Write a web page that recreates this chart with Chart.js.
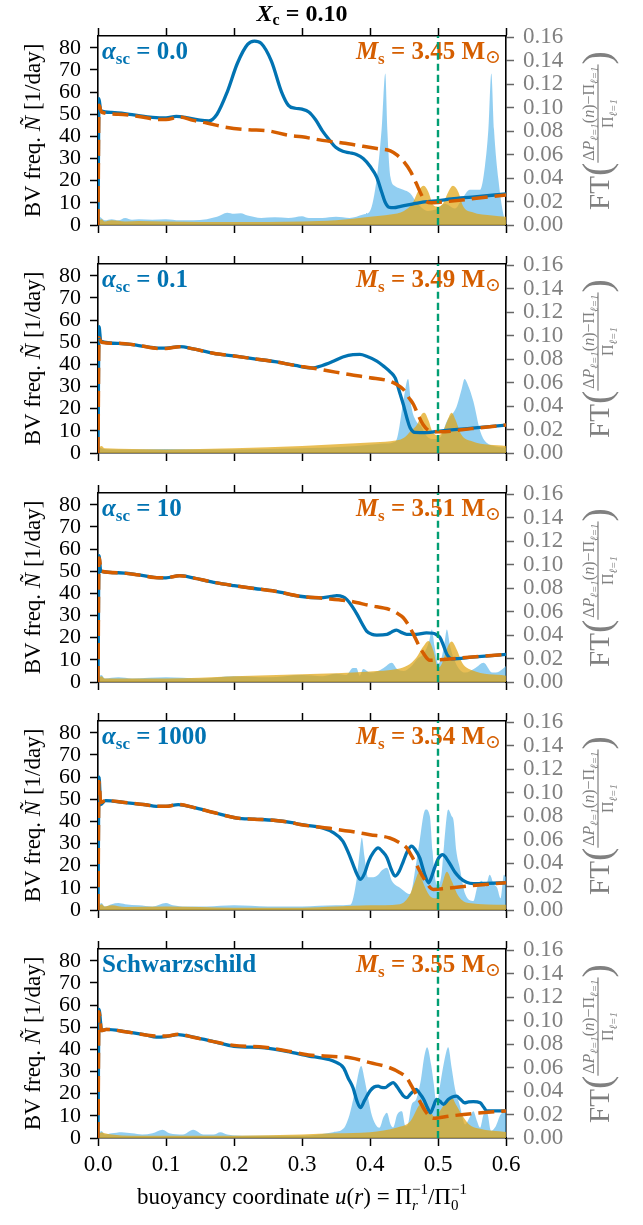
<!DOCTYPE html>
<html>
<head>
<meta charset="utf-8">
<script src="https://cdn.jsdelivr.net/npm/chart.js@4/dist/chart.umd.min.js"></script>
<style>
  body { margin: 0; background: #fff; width: 643px; height: 1225px; position: relative; overflow: hidden; }
  canvas { position: absolute; left: 0; }
</style>
</head>
<body>
<script>
// ---- axis ticks and ranges ----
const uTicks = [0, 0.1, 0.2, 0.3, 0.4, 0.5, 0.6];
const nTicks = [0, 10, 20, 30, 40, 50, 60, 70, 80];
const ftTicks = [0, 0.02, 0.04, 0.06, 0.08, 0.10, 0.12, 0.14, 0.16];
const N_MAX = 85.3;
const FT_MAX = 0.161;
const uMark = 0.5;

// ---- panel tags ----
const alphaSc = ['0.0', '0.1', '10', '1000', null];
const starMass = ['3.45', '3.49', '3.51', '3.54', '3.55'];

// ---- BV frequency profiles [u, N] : model (solid) and reference (dashed) ----
const nModel1 = [[0,0],[0.0015,57],[0.004,51.5],[0.02,50.8],[0.05,49.8],[0.08,48.6],[0.1,48.3],[0.115,49],[0.13,48.5],[0.15,47.3],[0.163,47],[0.175,50],[0.19,60],[0.205,73],[0.22,81.5],[0.23,83],[0.24,82],[0.255,74],[0.27,60],[0.28,54],[0.29,52.7],[0.3,52.3],[0.31,51],[0.32,47.5],[0.33,42.5],[0.34,38.5],[0.35,35],[0.36,33.3],[0.37,32.6],[0.38,31.8],[0.39,30],[0.4,26.5],[0.41,21.5],[0.417,15],[0.422,10.5],[0.428,8],[0.435,7.8],[0.445,8.4],[0.46,9.3],[0.48,10.4],[0.5,11],[0.52,11.8],[0.55,12.6],[0.6,14]];
const nRef1 = [[0,0],[0.0015,54],[0.005,51],[0.03,50],[0.06,49],[0.09,47.6],[0.1,47.6],[0.12,48.8],[0.14,47.2],[0.16,46],[0.19,44],[0.22,43],[0.25,42.5],[0.28,40.5],[0.3,39.8],[0.33,38.2],[0.36,37],[0.39,35.5],[0.41,34.5],[0.43,33.5],[0.44,31.5],[0.45,28.5],[0.46,24],[0.468,18.8],[0.475,14],[0.48,11.3],[0.49,10],[0.5,10.2],[0.55,11.8],[0.6,13.6]];

const nModel2 = [[0,0],[0.0015,57],[0.004,50.5],[0.03,49.5],[0.06,48.5],[0.09,47.3],[0.1,47.3],[0.12,48],[0.14,47],[0.17,45],[0.2,43.8],[0.23,42.5],[0.26,41.2],[0.29,39.5],[0.314,38.4],[0.33,39.5],[0.346,41.4],[0.36,43.3],[0.375,44.4],[0.385,44.5],[0.395,43.7],[0.41,41.5],[0.42,39.2],[0.43,36.5],[0.437,33.9],[0.443,28],[0.449,21.9],[0.455,15],[0.459,11.4],[0.466,9.3],[0.483,9.2],[0.503,9.9],[0.55,11.2],[0.6,12.6]];
const nRef2 = [[0,0],[0.0015,52],[0.005,50],[0.03,49.5],[0.06,48.5],[0.09,47.2],[0.1,47.2],[0.12,48],[0.14,47],[0.17,45],[0.2,43.8],[0.23,42.5],[0.26,41.2],[0.29,39.5],[0.314,38.4],[0.34,37],[0.37,35.4],[0.4,34],[0.429,32.4],[0.44,30.8],[0.449,28.7],[0.457,25],[0.464,21.9],[0.471,17],[0.478,12.9],[0.488,9.9],[0.503,9.6],[0.55,11],[0.6,12.6]];

const nModel3 = [[0,0],[0.0015,57],[0.004,50],[0.03,49.3],[0.06,48.3],[0.09,47],[0.1,47],[0.12,48],[0.14,47],[0.17,45],[0.2,43.5],[0.23,42.2],[0.26,41],[0.297,38.7],[0.326,38],[0.343,38.6],[0.351,39],[0.36,38.5],[0.366,37.2],[0.374,34],[0.381,30.5],[0.388,26.5],[0.395,23],[0.403,21.5],[0.41,21.2],[0.425,21.5],[0.432,22.6],[0.439,23.4],[0.446,22.4],[0.454,21.5],[0.468,21.5],[0.483,22.2],[0.493,22],[0.498,21.3],[0.503,20],[0.508,16.5],[0.513,12.5],[0.52,10.5],[0.55,11.2],[0.6,12.5]];
const nRef3 = [[0,0],[0.0015,56],[0.005,50],[0.03,49.3],[0.06,48.3],[0.09,47],[0.1,47],[0.12,48],[0.14,47],[0.17,45],[0.2,43.5],[0.23,42.2],[0.26,41],[0.297,38.7],[0.33,37.8],[0.37,36.5],[0.4,34.5],[0.429,32.7],[0.44,31],[0.449,29],[0.457,25.5],[0.464,21.5],[0.471,17],[0.478,13.2],[0.488,9.8],[0.508,10.2],[0.55,11.3],[0.6,12.5]];

const nModel4 = [[0,0],[0.0015,60],[0.0039,47.6],[0.011,49.4],[0.04,48.5],[0.07,47.5],[0.086,46.8],[0.1,46.8],[0.118,47.6],[0.14,46.3],[0.17,44],[0.204,41.5],[0.23,41],[0.258,40.5],[0.285,39.4],[0.297,38.6],[0.33,37],[0.346,34.9],[0.36,31.1],[0.368,26],[0.375,20.6],[0.381,16],[0.386,13.8],[0.392,16.5],[0.398,22],[0.405,26],[0.412,28],[0.418,26.5],[0.425,23.6],[0.431,18.5],[0.437,15.3],[0.443,17.5],[0.449,22],[0.455,26.5],[0.461,28.8],[0.467,27],[0.473,23.6],[0.48,16.5],[0.486,12.3],[0.49,14.5],[0.495,19],[0.501,23.5],[0.507,25],[0.512,23.5],[0.518,20.6],[0.525,17],[0.532,14.6],[0.542,12.5],[0.552,11.9],[0.57,12],[0.6,12.3]];
const nRef4 = [[0,0],[0.0015,58],[0.004,48.5],[0.011,49.4],[0.04,48.5],[0.07,47.5],[0.086,46.8],[0.1,46.8],[0.118,47.6],[0.14,46.3],[0.17,44],[0.204,41.5],[0.23,41],[0.258,40.5],[0.285,39.4],[0.297,38.6],[0.346,36.6],[0.371,35.5],[0.4,34],[0.429,32.5],[0.443,30.5],[0.454,28],[0.461,24.5],[0.468,20.6],[0.476,16],[0.483,12.3],[0.493,9.3],[0.512,9.8],[0.55,11],[0.6,12.3]];

const nModel5 = [[0,0],[0.0015,58],[0.0054,48.5],[0.012,49],[0.04,48],[0.07,46.5],[0.086,45.5],[0.1,45.8],[0.118,46.7],[0.14,45.5],[0.17,43.5],[0.2,41.4],[0.245,40.7],[0.28,39],[0.31,37],[0.33,36],[0.346,34.7],[0.361,31.7],[0.368,27],[0.375,22.7],[0.381,16.5],[0.386,13.7],[0.392,17],[0.4,21.2],[0.406,23],[0.412,23.4],[0.417,22.8],[0.422,22.7],[0.428,24],[0.434,25],[0.44,23],[0.444,21.2],[0.449,19],[0.454,18.2],[0.46,20],[0.468,21.9],[0.472,20.5],[0.479,17.4],[0.484,14],[0.489,11.4],[0.493,14],[0.498,17.4],[0.503,16.5],[0.508,15.2],[0.515,17.4],[0.521,18.5],[0.527,18.9],[0.533,17.5],[0.539,15.9],[0.545,16.3],[0.552,16.4],[0.562,15.9],[0.567,14],[0.572,12.2],[0.6,12.2]];
const nRef5 = [[0,0],[0.0015,57],[0.005,48.5],[0.012,49],[0.04,48],[0.07,46.5],[0.086,46],[0.1,46],[0.118,46.8],[0.14,45.5],[0.17,43.5],[0.2,41.8],[0.245,41],[0.28,39.2],[0.31,37.5],[0.346,36.8],[0.371,36.2],[0.4,34],[0.429,31.7],[0.444,29.5],[0.454,27.2],[0.461,23.5],[0.468,19.7],[0.476,15],[0.483,11.4],[0.493,8.9],[0.517,9.9],[0.55,11],[0.6,12.2]];

// ---- period-spacing spectra [u, FT] : model (light blue) and reference (gold) ----
const ftModel1 = [[0,0.008],[0.005,0.006],[0.01,0.004],[0.02,0.005],[0.03,0.004],[0.04,0.006],[0.05,0.0045],[0.06,0.005],[0.08,0.0045],[0.1,0.005],[0.12,0.004],[0.14,0.004],[0.16,0.005],[0.175,0.007],[0.19,0.0105],[0.2,0.0095],[0.21,0.01],[0.22,0.008],[0.24,0.006],[0.26,0.0065],[0.28,0.006],[0.3,0.0075],[0.31,0.006],[0.33,0.006],[0.35,0.007],[0.37,0.006],[0.39,0.009],[0.4,0.012],[0.41,0.04],[0.417,0.081],[0.4225,0.129],[0.4255,0.081],[0.43,0.041],[0.437,0.033],[0.449,0.03],[0.459,0.027],[0.47,0.018],[0.485,0.012],[0.5,0.014],[0.51,0.018],[0.525,0.014],[0.535,0.022],[0.547,0.03],[0.562,0.03],[0.569,0.05],[0.574,0.081],[0.5784,0.129],[0.5824,0.081],[0.589,0.038],[0.597,0.007],[0.6,0.004]];
const ftRef1 = [[0,0.003],[0.005,0.005],[0.01,0.003],[0.02,0.004],[0.04,0.003],[0.06,0.0035],[0.1,0.003],[0.2,0.0025],[0.3,0.003],[0.35,0.004],[0.4,0.007],[0.43,0.009],[0.45,0.012],[0.462,0.018],[0.472,0.03],[0.479,0.0334],[0.486,0.028],[0.493,0.017],[0.5,0.0156],[0.507,0.018],[0.515,0.028],[0.522,0.0334],[0.53,0.028],[0.537,0.016],[0.55,0.011],[0.58,0.008],[0.6,0.007]];

const ftModel2 = [[0,0.006],[0.005,0.004],[0.02,0.003],[0.05,0.003],[0.1,0.0035],[0.15,0.003],[0.2,0.003],[0.3,0.004],[0.38,0.006],[0.42,0.008],[0.434,0.009],[0.44,0.013],[0.449,0.044],[0.456,0.063],[0.461,0.039],[0.468,0.027],[0.475,0.023],[0.483,0.0146],[0.49,0.012],[0.5,0.012],[0.505,0.015],[0.513,0.027],[0.527,0.039],[0.535,0.055],[0.539,0.063],[0.544,0.058],[0.552,0.044],[0.562,0.0187],[0.571,0.009],[0.6,0.0045]];
const ftRef2 = [[0,0.004],[0.005,0.006],[0.01,0.004],[0.05,0.0035],[0.1,0.003],[0.2,0.004],[0.3,0.006],[0.4,0.009],[0.43,0.01],[0.45,0.013],[0.46,0.0187],[0.47,0.025],[0.476,0.033],[0.48,0.0343],[0.486,0.028],[0.492,0.018],[0.5,0.015],[0.507,0.018],[0.514,0.028],[0.52,0.0343],[0.526,0.028],[0.534,0.016],[0.55,0.01],[0.6,0.006]];

const ftModel3 = [[0,0.004],[0.005,0.006],[0.01,0.003],[0.03,0.004],[0.05,0.003],[0.1,0.004],[0.15,0.003],[0.2,0.005],[0.25,0.004],[0.3,0.006],[0.33,0.005],[0.35,0.007],[0.365,0.006],[0.375,0.012],[0.38,0.012],[0.385,0.0054],[0.39,0.011],[0.4,0.008],[0.41,0.009],[0.42,0.012],[0.432,0.0165],[0.44,0.011],[0.449,0.0094],[0.46,0.013],[0.47,0.02],[0.48,0.025],[0.487,0.035],[0.491,0.0448],[0.495,0.03],[0.5,0.016],[0.505,0.02],[0.51,0.035],[0.513,0.0448],[0.518,0.03],[0.527,0.015],[0.54,0.008],[0.555,0.012],[0.567,0.0165],[0.58,0.008],[0.59,0.009],[0.6,0.0136]];
const ftRef3 = [[0,0.003],[0.005,0.005],[0.01,0.003],[0.05,0.003],[0.1,0.003],[0.2,0.005],[0.3,0.0065],[0.4,0.009],[0.44,0.011],[0.455,0.014],[0.468,0.0207],[0.478,0.03],[0.486,0.035],[0.493,0.027],[0.5,0.012],[0.506,0.016],[0.513,0.028],[0.52,0.0344],[0.528,0.027],[0.536,0.016],[0.55,0.01],[0.6,0.0054]];

const ftModel4 = [[0,0.003],[0.005,0.006],[0.01,0.003],[0.02,0.005],[0.03,0.006],[0.04,0.005],[0.06,0.004],[0.08,0.003],[0.1,0.006],[0.11,0.004],[0.13,0.003],[0.16,0.003],[0.2,0.004],[0.25,0.003],[0.3,0.003],[0.35,0.004],[0.371,0.0045],[0.38,0.025],[0.385,0.05],[0.388,0.0615],[0.392,0.045],[0.397,0.028],[0.405,0.028],[0.412,0.03],[0.418,0.034],[0.425,0.036],[0.432,0.025],[0.444,0.019],[0.459,0.0136],[0.468,0.04],[0.473,0.0587],[0.479,0.082],[0.482,0.0857],[0.488,0.08],[0.492,0.05],[0.495,0.03],[0.5,0.02],[0.505,0.03],[0.509,0.0558],[0.515,0.0857],[0.52,0.08],[0.523,0.0757],[0.527,0.05],[0.532,0.036],[0.54,0.0136],[0.552,0.0077],[0.558,0.02],[0.564,0.025],[0.57,0.02],[0.576,0.03],[0.582,0.022],[0.587,0.019],[0.592,0.01],[0.597,0.03],[0.6,0.028]];
const ftRef4 = [[0,0.002],[0.005,0.005],[0.01,0.003],[0.02,0.004],[0.04,0.0025],[0.1,0.003],[0.2,0.002],[0.3,0.002],[0.35,0.003],[0.4,0.004],[0.444,0.005],[0.459,0.0134],[0.466,0.024],[0.472,0.032],[0.479,0.022],[0.488,0.012],[0.497,0.01],[0.505,0.02],[0.513,0.0326],[0.52,0.025],[0.53,0.012],[0.545,0.006],[0.6,0.0044]];

const ftModel5 = [[0,0.003],[0.005,0.006],[0.01,0.003],[0.02,0.004],[0.035,0.005],[0.05,0.004],[0.065,0.003],[0.08,0.004],[0.095,0.007],[0.105,0.004],[0.125,0.003],[0.14,0.007],[0.155,0.003],[0.17,0.003],[0.18,0.005],[0.19,0.003],[0.22,0.002],[0.3,0.002],[0.346,0.005],[0.361,0.008],[0.37,0.02],[0.378,0.04],[0.387,0.0613],[0.392,0.05],[0.397,0.035],[0.403,0.0187],[0.41,0.01],[0.414,0.0088],[0.42,0.018],[0.425,0.0216],[0.43,0.012],[0.434,0.009],[0.44,0.02],[0.447,0.0227],[0.452,0.01],[0.456,0.012],[0.461,0.028],[0.468,0.033],[0.475,0.05],[0.48,0.07],[0.484,0.0774],[0.49,0.062],[0.494,0.045],[0.498,0.0284],[0.503,0.045],[0.509,0.065],[0.515,0.0774],[0.52,0.06],[0.525,0.042],[0.532,0.028],[0.54,0.0116],[0.547,0.018],[0.552,0.0227],[0.557,0.015],[0.562,0.0088],[0.567,0.02],[0.572,0.022],[0.578,0.0062],[0.585,0.01],[0.592,0.02],[0.6,0.023]];
const ftRef5 = [[0,0.002],[0.005,0.005],[0.01,0.004],[0.02,0.003],[0.05,0.002],[0.1,0.002],[0.2,0.002],[0.3,0.003],[0.35,0.004],[0.4,0.005],[0.44,0.009],[0.459,0.014],[0.473,0.0284],[0.48,0.03],[0.487,0.025],[0.495,0.018],[0.505,0.025],[0.513,0.032],[0.52,0.0346],[0.527,0.028],[0.535,0.02],[0.545,0.012],[0.56,0.008],[0.6,0.0051]];

const nModel = [nModel1, nModel2, nModel3, nModel4, nModel5];
const nRef = [nRef1, nRef2, nRef3, nRef4, nRef5];
const ftModel = [ftModel1, ftModel2, ftModel3, ftModel4, ftModel5];
const ftRef = [ftRef1, ftRef2, ftRef3, ftRef4, ftRef5];

// ---- look ----
const SERIF = '"Liberation Serif", "DejaVu Serif", serif';
const BLUE = '#0173B2', ORANGE = '#D55E00', GREEN = '#029E73', GREY = '#808080';
const FILL_BLUE = 'rgba(86,180,233,0.65)';
const FILL_GOLD = 'rgba(225,165,20,0.72)';

// ---- layout (page pixels) ----
const PAGE_W = 643, PAGE_H = 1225;
const PANEL_TOP = [36, 264, 493, 721, 949];
const PANEL_H = 189;
const PAD = 36;
const LEFT_W = 98, RIGHT_W = 137;

function F(size, style) { return (style || '') + ' ' + size + 'px ' + SERIF; }
function P(t, f, dy, stack) { return { t: t, f: f, dy: dy || 0, stack: !!stack }; }

// draws (or only measures) a run of text pieces; stacked pieces share the previous x
function runParts(ctx, parts, x0, y0, draw) {
  let cx = x0, prevX = x0, prevW = 0;
  parts.forEach(function(p) {
    ctx.font = p.f;
    const w = ctx.measureText(p.t).width;
    const sx = p.stack ? prevX : cx;
    if (draw) ctx.fillText(p.t, sx, y0 + p.dy);
    if (p.stack) {
      cx = prevX + Math.max(prevW, w);
    } else {
      prevX = cx; prevW = w; cx += w;
    }
  });
  return cx - x0;
}

function rich(ctx, parts, x, y, align, color) {
  const w = runParts(ctx, parts, 0, 0, false);
  const sx = align === 'center' ? x - w / 2 : align === 'right' ? x - w : x;
  ctx.fillStyle = color;
  ctx.textAlign = 'left';
  ctx.textBaseline = 'alphabetic';
  runParts(ctx, parts, sx, y, true);
  return w;
}

// right-hand label: FT( (dP - Pi) / Pi )
function drawFtLabel(ctx, cx, cy) {
  const big = F(29), paren = F(40), fs = F(16), fsi = F(16, 'italic'), subi = F(11, 'italic');
  const num = [P('\u0394', fs), P('P', fsi), P('\u2113=1', subi, 4), P('(', fs), P('n', fsi), P(')', fs),
               P('\u2212', fs), P('\u03A0', fs), P('\u2113=1', subi, 4)];
  const den = [P('\u03A0', fs), P('\u2113=1', subi, 4)];
  ctx.save();
  ctx.translate(cx, cy);
  ctx.rotate(-Math.PI / 2);
  ctx.fillStyle = GREY;
  ctx.textAlign = 'left';
  ctx.textBaseline = 'alphabetic';
  const numW = runParts(ctx, num, 0, 0, false);
  const denW = runParts(ctx, den, 0, 0, false);
  const fracW = Math.max(numW, denW) + 4;
  ctx.font = big; const ftW = ctx.measureText('FT').width;
  ctx.font = paren; const pw = ctx.measureText('(').width;
  let x = -(ftW + 2 * pw + fracW) / 2;
  ctx.font = big; ctx.fillText('FT', x, 11); x += ftW;
  ctx.font = paren; ctx.fillText('(', x, 12); x += pw;
  rich(ctx, num, x + fracW / 2, -4, 'center', GREY);
  rich(ctx, den, x + fracW / 2, 15, 'center', GREY);
  ctx.fillRect(x, -0.6, fracW, 1.2);
  x += fracW;
  ctx.font = paren; ctx.fillText(')', x, 12);
  ctx.restore();
}

const panelDecor = {
  id: 'panelDecor',
  beforeDatasetsDraw(chart, args, o) {
    const ctx = chart.ctx, a = chart.chartArea;
    const base = a.top + 23;
    ctx.save();
    if (o.alpha !== null) {
      rich(ctx, [P('\u03B1', F(25, 'italic bold')), P('sc', F(17, 'bold'), 5), P(' = ' + o.alpha, F(25, 'bold'))],
           a.left + 4, base, 'left', BLUE);
    } else {
      rich(ctx, [P('Schwarzschild', F(25, 'bold'))], a.left + 4, base, 'left', BLUE);
    }
    rich(ctx, [P('M', F(25, 'italic bold')), P('s', F(17, 'bold'), 5), P(' = ' + o.mass + ' ', F(25, 'bold')),
               P('M', F(25, 'bold')), P('\u2299', F(19), 4)], a.right - 5, base, 'right', ORANGE);
    ctx.restore();
  },
  afterDraw(chart, args, o) {
    const ctx = chart.ctx, a = chart.chartArea;
    const mid = (a.top + a.bottom) / 2, cxMid = (a.left + a.right) / 2;
    ctx.save();
    ctx.translate(40, mid);
    ctx.rotate(-Math.PI / 2);
    rich(ctx, [P('BV freq. ', F(23)), P('\u00D1', F(23, 'italic')), P(' [1/day]', F(23))], 0, 0, 'center', '#000');
    ctx.restore();
    drawFtLabel(ctx, a.right + 92, mid);
    if (o.title) {
      rich(ctx, [P('X', F(24, 'italic bold')), P('c', F(16, 'bold'), 4), P(' = 0.10', F(24, 'bold'))],
           cxMid, a.top - 15, 'center', '#000');
    }
    if (o.xlabel) {
      const t = F(23), ti = F(23, 'italic'), s = F(15), si = F(15, 'italic');
      rich(ctx, [P('buoyancy coordinate ', t), P('u', ti), P('(', t), P('r', ti), P(') = ', t),
                 P('\u03A0', t), P('\u22121', s, -10), P('r', si, 6, true),
                 P('/', t), P('\u03A0', t), P('\u22121', s, -10), P('0', s, 6, true)],
           cxMid, a.bottom + 66, 'center', '#000');
    }
  }
};

function lineSet(data, color, width, dash) {
  return {
    data: data, yAxisID: 'y', borderColor: color, borderWidth: width, borderDash: dash,
    borderCapStyle: 'butt', borderJoinStyle: 'round', pointRadius: 0, fill: false,
    cubicInterpolationMode: 'monotone'
  };
}

function fillSet(data, color) {
  return {
    data: data, yAxisID: 'y2', borderColor: 'rgba(0,0,0,0)', borderWidth: 0, backgroundColor: color,
    pointRadius: 0, fill: 'origin', cubicInterpolationMode: 'monotone'
  };
}

function tickMarks(color) {
  return { drawOnChartArea: false, drawTicks: true, tickLength: 8, tickWidth: 1.5, tickColor: color };
}

function makePanel(i) {
  const last = i === PANEL_TOP.length - 1;
  const top = PANEL_TOP[i] - PAD;
  const h = last ? PAGE_H - top : PANEL_H + 2 * PAD;
  const cv = document.createElement('canvas');
  cv.width = PAGE_W; cv.height = h;
  cv.style.width = PAGE_W + 'px'; cv.style.height = h + 'px';
  cv.style.top = top + 'px';
  document.body.appendChild(cv);

  const frame = { display: true, color: '#000', width: 1.6 };

  new Chart(cv, {
    type: 'line',
    data: {
      datasets: [
        lineSet([[uMark, 0], [uMark, N_MAX]], GREEN, 2.4, [7, 4]),
        lineSet(nRef[i], ORANGE, 3.5, [16, 7]),
        lineSet(nModel[i], BLUE, 3.3, []),
        fillSet(ftRef[i], FILL_GOLD),
        fillSet(ftModel[i], FILL_BLUE)
      ]
    },
    options: {
      responsive: false,
      animation: false,
      devicePixelRatio: 1,
      layout: { padding: 0 },
      plugins: {
        legend: { display: false },
        tooltip: { enabled: false },
        panelDecor: { alpha: alphaSc[i], mass: starMass[i], title: i === 0, xlabel: last }
      },
      scales: {
        x: {
          type: 'linear', position: 'bottom', min: 0, max: 0.6,
          afterBuildTicks: function(s) { s.ticks = uTicks.map(function(v) { return { value: v }; }); },
          afterFit: function(s) { s.height = h - PAD - PANEL_H; },
          grid: tickMarks('#000'),
          border: frame,
          ticks: {
            display: last, autoSkip: false, maxRotation: 0, color: '#000', padding: 5,
            font: { family: SERIF, size: 23 },
            callback: function(v) { return v.toFixed(1); }
          }
        },
        xTop: {
          axis: 'x', type: 'linear', position: 'top', min: 0, max: 0.6,
          afterBuildTicks: function(s) { s.ticks = uTicks.map(function(v) { return { value: v }; }); },
          afterFit: function(s) { s.height = PAD; },
          grid: tickMarks('#000'),
          border: frame,
          ticks: { display: false }
        },
        y: {
          type: 'linear', position: 'left', min: 0, max: N_MAX,
          afterBuildTicks: function(s) { s.ticks = nTicks.map(function(v) { return { value: v }; }); },
          afterFit: function(s) { s.width = LEFT_W; },
          grid: tickMarks('#000'),
          border: frame,
          ticks: {
            autoSkip: false, color: '#000', padding: 9,
            font: { family: SERIF, size: 22 },
            callback: function(v) { return String(v); }
          }
        },
        y2: {
          type: 'linear', position: 'right', min: 0, max: FT_MAX,
          afterBuildTicks: function(s) { s.ticks = ftTicks.map(function(v) { return { value: v }; }); },
          afterFit: function(s) { s.width = RIGHT_W; },
          grid: tickMarks('#666'),
          border: frame,
          ticks: {
            autoSkip: false, color: GREY, padding: 9,
            font: { family: SERIF, size: 23 },
            callback: function(v) { return v.toFixed(2); }
          }
        }
      }
    },
    plugins: [panelDecor]
  });
}

PANEL_TOP.forEach(function(t, i) { makePanel(i); });
</script>
</body>
</html>
